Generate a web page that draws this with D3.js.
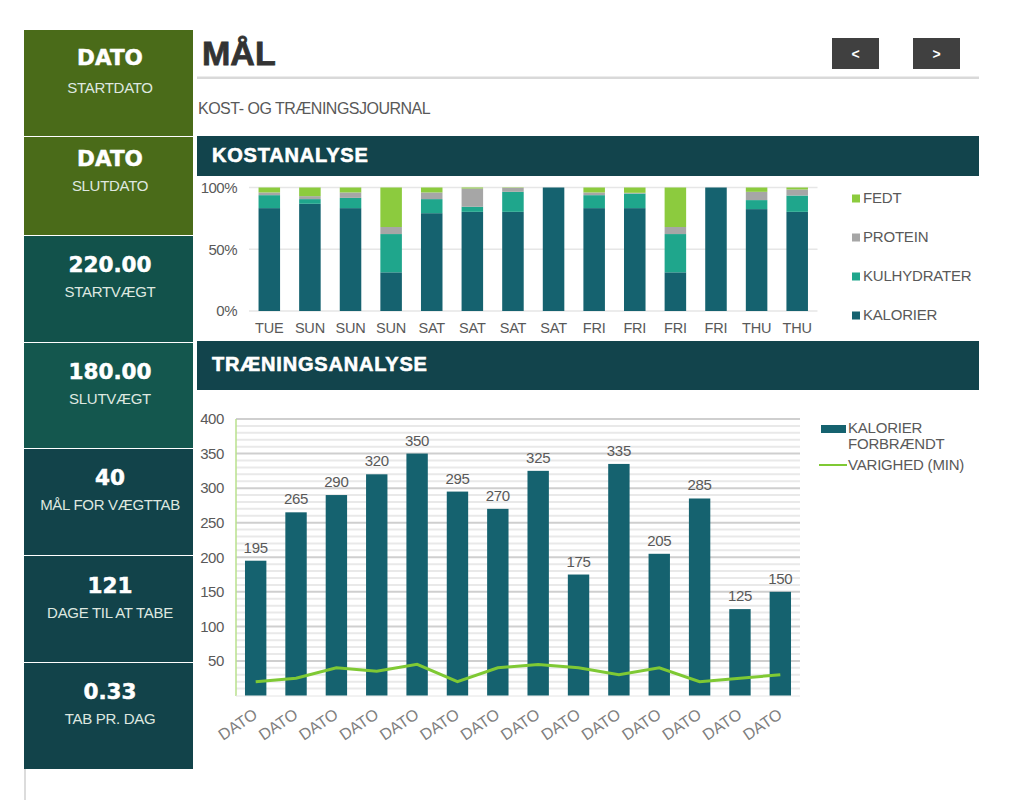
<!DOCTYPE html>
<html>
<head>
<meta charset="utf-8">
<script src="https://cdn.jsdelivr.net/npm/d3@7"></script>
<style>
  html, body { margin: 0; padding: 0; background: #fff; }
  text { font-family: "Liberation Sans", Arial, sans-serif; }
</style>
</head>
<body>
<svg id="page" width="1028" height="800"></svg>
<script>
// sidebar
var sideValues = ["DATO", "DATO", "220.00", "180.00", "40", "121", "0.33"];
var sideLabels = ["STARTDATO", "SLUTDATO", "STARTVÆGT", "SLUTVÆGT", "MÅL FOR VÆGTTAB", "DAGE TIL AT TABE", "TAB PR. DAG"];

// diet chart, percent of each day
var dietDays = ["TUE", "SUN", "SUN", "SUN", "SAT", "SAT", "SAT", "SAT", "FRI", "FRI", "FRI", "FRI", "THU", "THU"];
var kalorier = [83.3, 86.8, 83.3, 31.3, 79.2, 80.3, 80.3, 100, 83.3, 83.3, 31.3, 100, 82.5, 80.3];
var kulhydrater = [10.5, 3.8, 8.3, 31, 11.4, 4.1, 16.2, 0, 10.5, 11.8, 31, 0, 7.3, 13.2];
var protein = [2.2, 2.4, 4.4, 5.7, 5.4, 14.8, 3.2, 0, 2.2, 0.6, 5.7, 0, 6.7, 4.9];
var fedt = [4, 7, 4, 32, 4, 0.8, 0.3, 0, 4, 4.3, 32, 0, 3.5, 1.6];
var dietTicks = [0, 50, 100];

// exercise chart
var exerciseDates = ["DATO", "DATO", "DATO", "DATO", "DATO", "DATO", "DATO", "DATO", "DATO", "DATO", "DATO", "DATO", "DATO", "DATO"];
var kalorierForbraendt = [195, 265, 290, 320, 350, 295, 270, 325, 175, 335, 205, 285, 125, 150];
var varighed = [20, 25, 40, 35, 45, 20, 40, 45, 40, 30, 40, 20, 25, 30];
var exerciseTicks = [50, 100, 150, 200, 250, 300, 350, 400];
var exerciseMinor = [10, 20, 30, 40, 60, 70, 80, 90, 110, 120, 130, 140, 160, 170, 180, 190, 210, 220, 230, 240, 260, 270, 280, 290, 310, 320, 330, 340, 360, 370, 380, 390];

var dietSeries = ["KALORIER", "KULHYDRATER", "PROTEIN", "FEDT"];
var dietColors = ["#15626f", "#1fa68c", "#a6a6a6", "#8ccb3e"];

var teal = "#15626f", lime = "#7fc934", textGrey = "#595959";

var svg = d3.select("#page");

// ---- sidebar panels ----
var panelEdges = [30, 136, 235, 342, 448, 555, 662, 769];
var panelFills = ["#4a6b19", "#4a6b19", "#12524b", "#14574e", "#12434a", "#12434a", "#12434a"];
var valueDy = [35, 30, 37, 37, 37, 38, 37];
var labelDy = [63, 55, 62, 62, 62, 63, 62];

sideValues.forEach(function(v, i){
    var top = panelEdges[i], bottom = panelEdges[i + 1];
    svg.append("rect")
        .attr("x", 24).attr("y", top + (i ? 1 : 0))
        .attr("width", 169).attr("height", bottom - top - (i ? 1 : 0))
        .attr("fill", panelFills[i]);
    svg.append("text")
        .attr("x", 110).attr("y", top + valueDy[i])
        .attr("text-anchor", "middle")
        .attr("fill", "#fff").attr("stroke", "#fff").attr("stroke-width", 0.5)
        .style("font-family", "'DejaVu Sans', sans-serif")
        .style("font-weight", "bold").style("font-size", "21.5px")
        .text(v);
    svg.append("text")
        .attr("x", 110).attr("y", top + labelDy[i])
        .attr("text-anchor", "middle")
        .attr("fill", "#dfe8e0")
        .style("font-size", "15px").style("letter-spacing", "-0.3px")
        .text(sideLabels[i]);
});
svg.append("line").attr("x1", 25).attr("x2", 25).attr("y1", 769).attr("y2", 800)
    .attr("stroke", "#dcdcdc").attr("stroke-width", 2);

// ---- header ----
svg.append("text").attr("x", 202).attr("y", 65)
    .attr("fill", "#333").attr("stroke", "#333").attr("stroke-width", 0.8)
    .style("font-weight", "bold").style("font-size", "34px")
    .text("MÅL");
svg.append("rect").attr("x", 197).attr("y", 76.5).attr("width", 782).attr("height", 2.5).attr("fill", "#d9d9d9");
svg.append("text").attr("x", 198).attr("y", 114)
    .attr("fill", textGrey).style("font-size", "16px").style("letter-spacing", "-0.5px")
    .text("KOST- OG TRÆNINGSJOURNAL");

[["<", 832], [">", 913]].forEach(function(b){
    svg.append("rect").attr("x", b[1]).attr("y", 38).attr("width", 47).attr("height", 31).attr("fill", "#404040");
    svg.append("text").attr("x", b[1] + 23.5).attr("y", 59)
        .attr("text-anchor", "middle").attr("fill", "#fff")
        .style("font-weight", "bold").style("font-size", "14px")
        .text(b[0]);
});

// ---- section bars ----
[["KOSTANALYSE", 136, 40], ["TRÆNINGSANALYSE", 341, 49]].forEach(function(s){
    svg.append("rect").attr("x", 197).attr("y", s[1]).attr("width", 782).attr("height", s[2]).attr("fill", "#12444c");
    svg.append("text").attr("x", 212).attr("y", s[1] + (s[2] === 40 ? 26 : 30))
        .attr("fill", "#fff").attr("stroke", "#fff").attr("stroke-width", 0.6)
        .style("font-weight", "bold").style("font-size", "20px").style("letter-spacing", "0.8px")
        .text(s[0]);
});

// ---- diet chart ----
var dietIdx = d3.range(dietDays.length);
var dietRows = dietIdx.map(function(i){
    return {KALORIER: kalorier[i], KULHYDRATER: kulhydrater[i], PROTEIN: protein[i], FEDT: fedt[i]};
});
var xDiet = d3.scaleBand().domain(dietIdx).range([249, 817.5]).paddingInner(0.47).paddingOuter(0.235);
var yDiet = d3.scaleLinear().domain([0, 100]).range([311, 187.5]);

var dietAxisY = svg.append("g").attr("transform", "translate(249,0)")
    .call(d3.axisLeft(yDiet).tickValues(dietTicks).tickSize(0).tickPadding(12).tickFormat(function(d){ return d + "%"; }));
dietAxisY.select(".domain").remove();
dietAxisY.selectAll("text").attr("fill", textGrey).style("font-size", "15px").style("letter-spacing", "-0.5px");

svg.append("g").selectAll("line").data(dietTicks).join("line")
    .attr("x1", 249).attr("x2", 817.5)
    .attr("y1", function(d){ return yDiet(d); }).attr("y2", function(d){ return yDiet(d); })
    .attr("stroke", "#e6e6e6").attr("stroke-width", 1.5);

var stack = d3.stack().keys(dietSeries)(dietRows);
svg.append("g").selectAll("g").data(stack).join("g")
    .attr("fill", function(d, i){ return dietColors[i]; })
    .selectAll("rect").data(function(d){ return d; }).join("rect")
    .attr("x", function(d, i){ return xDiet(i); })
    .attr("width", xDiet.bandwidth())
    .attr("y", function(d){ return yDiet(d[1]); })
    .attr("height", function(d){ return yDiet(d[0]) - yDiet(d[1]); });

svg.append("g").selectAll("text").data(dietDays).join("text")
    .attr("x", function(d, i){ return xDiet(i) + xDiet.bandwidth() / 2; })
    .attr("y", 333)
    .attr("text-anchor", "middle").attr("fill", textGrey)
    .style("font-size", "14.5px").style("letter-spacing", "-0.2px")
    .text(function(d){ return d; });

// legend, top down is reverse of stack order
var dietLegend = dietSeries.slice().reverse();
var yDietLegend = d3.scalePoint().domain(dietLegend).range([198, 315]);
dietLegend.forEach(function(name){
    var y = yDietLegend(name);
    svg.append("rect").attr("x", 852).attr("y", y - 3.5).attr("width", 8).attr("height", 8)
        .attr("fill", dietColors[dietSeries.indexOf(name)]);
    svg.append("text").attr("x", 863).attr("y", y + 5)
        .attr("fill", textGrey).style("font-size", "15px").style("letter-spacing", "-0.2px")
        .text(name);
});

// ---- exercise chart ----
var exIdx = d3.range(exerciseDates.length);
var xEx = d3.scaleBand().domain(exIdx).range([235.5, 800.5]).paddingInner(0.47).paddingOuter(0.235);
var yEx = d3.scaleLinear().domain([0, 400]).range([695.5, 419]);

svg.append("g").selectAll("line").data(exerciseMinor).join("line")
    .attr("x1", 236).attr("x2", 800)
    .attr("y1", function(d){ return yEx(d); }).attr("y2", function(d){ return yEx(d); })
    .attr("stroke", "#e9e9e9").attr("stroke-width", 2);
svg.append("g").selectAll("line").data(exerciseTicks).join("line")
    .attr("x1", 236).attr("x2", 800)
    .attr("y1", function(d){ return yEx(d); }).attr("y2", function(d){ return yEx(d); })
    .attr("stroke", "#cfcfcf").attr("stroke-width", 2);

svg.append("line").attr("x1", 236).attr("x2", 236).attr("y1", 419).attr("y2", 696)
    .attr("stroke", "#b9e08d").attr("stroke-width", 1.5);
svg.append("line").attr("x1", 236).attr("x2", 800).attr("y1", 696).attr("y2", 696)
    .attr("stroke", "#e4e4e4").attr("stroke-width", 1);

var exAxisY = svg.append("g").attr("transform", "translate(236,0)")
    .call(d3.axisLeft(yEx).tickValues(exerciseTicks).tickSize(0).tickPadding(12));
exAxisY.select(".domain").remove();
exAxisY.selectAll("text").attr("fill", textGrey).style("font-size", "15px").style("letter-spacing", "-0.4px");

svg.append("g").selectAll("rect").data(kalorierForbraendt).join("rect")
    .attr("x", function(d, i){ return xEx(i); })
    .attr("width", xEx.bandwidth())
    .attr("y", function(d){ return yEx(d); })
    .attr("height", function(d){ return yEx(0) - yEx(d); })
    .attr("fill", teal);

svg.append("g").selectAll("text").data(kalorierForbraendt).join("text")
    .attr("x", function(d, i){ return xEx(i) + xEx.bandwidth() / 2; })
    .attr("y", function(d){ return yEx(d) - 8; })
    .attr("text-anchor", "middle").attr("fill", textGrey)
    .style("font-size", "15px").style("letter-spacing", "-0.3px")
    .text(function(d){ return d; });

var durationLine = d3.line()
    .x(function(d, i){ return xEx(i) + xEx.bandwidth() / 2; })
    .y(function(d){ return yEx(d); });
svg.append("path").datum(varighed)
    .attr("d", durationLine)
    .attr("fill", "none").attr("stroke", lime).attr("stroke-width", 3);

svg.append("g").selectAll("text").data(exerciseDates).join("text")
    .attr("transform", function(d, i){
        return "translate(" + (xEx(i) + xEx.bandwidth() / 2 + 3) + ",717) rotate(-34)";
    })
    .attr("text-anchor", "end").attr("fill", "#7f7f7f")
    .style("font-size", "16px")
    .text(function(d){ return d; });

// exercise legend
svg.append("rect").attr("x", 821).attr("y", 425).attr("width", 25).attr("height", 8).attr("fill", teal);
svg.append("text").attr("x", 848).attr("y", 433).attr("fill", textGrey)
    .style("font-size", "15px").style("letter-spacing", "-0.2px").text("KALORIER");
svg.append("text").attr("x", 848).attr("y", 449).attr("fill", textGrey)
    .style("font-size", "15px").style("letter-spacing", "-0.2px").text("FORBRÆNDT");
svg.append("line").attr("x1", 819).attr("x2", 847).attr("y1", 465).attr("y2", 465)
    .attr("stroke", lime).attr("stroke-width", 2);
svg.append("text").attr("x", 848).attr("y", 470).attr("fill", textGrey)
    .style("font-size", "15px").style("letter-spacing", "-0.2px").text("VARIGHED (MIN)");
</script>
</body>
</html>
